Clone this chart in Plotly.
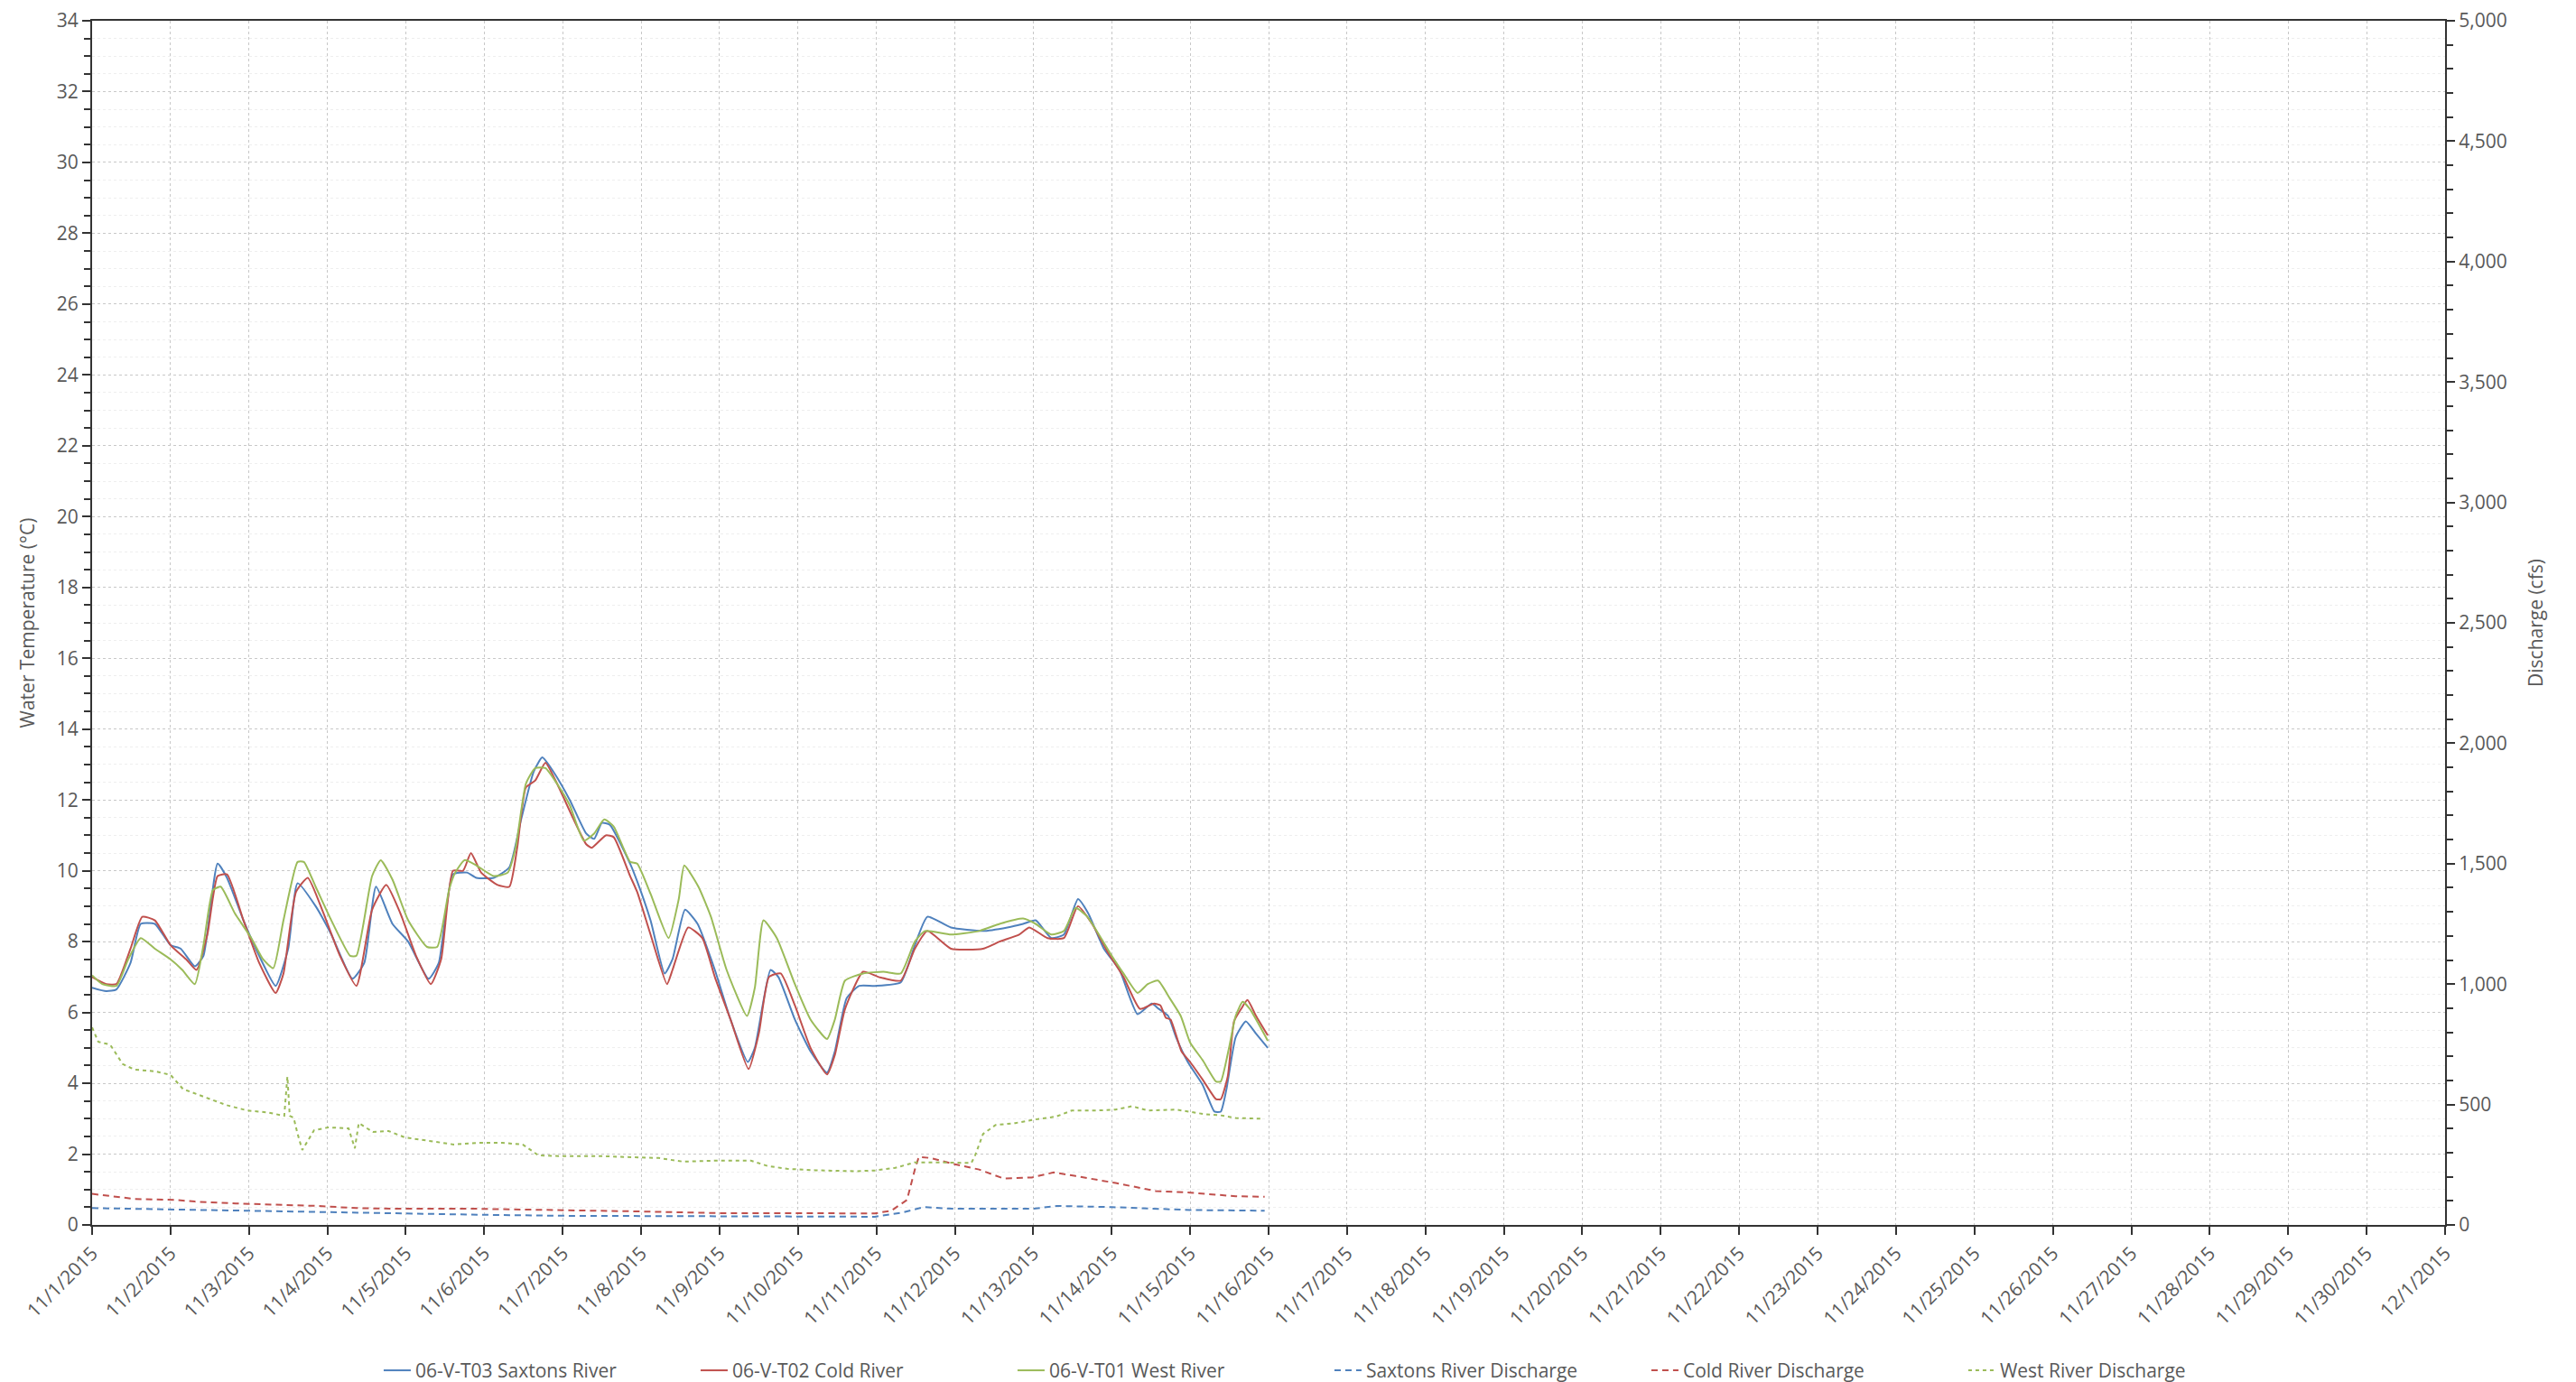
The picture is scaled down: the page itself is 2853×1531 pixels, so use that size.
import pandas as pd
import plotly.graph_objects as go

# --- 資料 (天數自 2015-11-01 00:00 起算) ---
start = pd.Timestamp('2015-11-01')

saxtons_days = [0.00, 0.18, 0.31, 0.49, 0.62, 0.80, 1.00, 1.13, 1.31, 1.42, 1.60, 1.72, 1.93, 2.13, 2.34, 2.50,
                2.62, 2.85, 3.05, 3.32, 3.47, 3.62, 3.83, 4.03, 4.29, 4.42, 4.60, 4.78, 4.90, 5.12, 5.32, 5.47,
                5.63, 5.74, 5.88, 6.09, 6.30, 6.40, 6.50, 6.60, 6.86, 6.95, 7.12, 7.30, 7.40, 7.56, 7.72, 7.94,
                8.14, 8.36, 8.45, 8.65, 8.75, 8.96, 9.16, 9.37, 9.47, 9.62, 9.78, 9.98, 10.31, 10.49, 10.65,
                10.95, 11.36, 11.67, 11.87, 12.03, 12.23, 12.39, 12.57, 12.70, 12.90, 13.10, 13.33, 13.51,
                13.60, 13.72, 13.82, 13.97, 14.16, 14.31, 14.39, 14.46, 14.58, 14.71, 14.84, 14.99]
saxtons_temp = [6.7, 6.6, 6.65, 7.4, 8.5, 8.5, 7.9, 7.8, 7.3, 7.6, 10.2, 9.8, 8.6, 7.6, 6.75, 7.8,
                9.65, 9.0, 8.2, 6.95, 7.4, 9.55, 8.5, 8.0, 6.95, 7.4, 9.9, 9.95, 9.8, 9.8, 10.1, 11.45,
                12.8, 13.2, 12.8, 12.0, 11.05, 10.9, 11.35, 11.3, 10.2, 9.7, 8.6, 7.1, 7.5, 8.9, 8.5, 7.2,
                5.8, 4.6, 5.0, 7.2, 7.0, 5.8, 4.9, 4.3, 4.9, 6.4, 6.75, 6.75, 6.85, 7.9, 8.7,
                8.4, 8.3, 8.4, 8.5, 8.6, 8.1, 8.2, 9.2, 8.8, 7.8, 7.2, 5.95, 6.25,
                6.1, 5.9, 5.3, 4.6, 3.95, 3.2, 3.2, 3.8, 5.3, 5.75, 5.4, 5.0]

cold_days = [0.00, 0.18, 0.31, 0.49, 0.64, 0.80, 1.00, 1.20, 1.33, 1.47, 1.60, 1.72, 1.93, 2.13, 2.34, 2.44,
             2.60, 2.75, 2.95, 3.16, 3.37, 3.57, 3.75, 3.93, 4.13, 4.32, 4.45, 4.60, 4.73, 4.83, 4.96, 5.17,
             5.32, 5.42, 5.53, 5.65, 5.78, 5.93, 6.14, 6.30, 6.37, 6.55, 6.65, 6.86, 6.95, 7.12, 7.33, 7.40,
             7.60, 7.78, 7.94, 8.14, 8.37, 8.50, 8.63, 8.78, 8.96, 9.16, 9.37, 9.47, 9.60, 9.83, 10.03,
             10.31, 10.49, 10.65, 10.95, 11.36, 11.57, 11.82, 11.95, 12.18, 12.39, 12.57, 12.75, 12.95,
             13.15, 13.36, 13.54, 13.62, 13.69, 13.75, 13.89, 14.00, 14.16, 14.33, 14.39, 14.48, 14.56,
             14.65, 14.73, 14.84, 14.99]
cold_temp = [7.0, 6.8, 6.8, 7.8, 8.7, 8.6, 7.9, 7.5, 7.2, 8.2, 9.85, 9.9, 8.6, 7.4, 6.55, 7.1,
             9.4, 9.8, 8.8, 7.6, 6.75, 8.9, 9.6, 8.8, 7.6, 6.8, 7.5, 10.0, 10.0, 10.5, 9.95, 9.6,
             9.55, 10.65, 12.35, 12.55, 13.05, 12.45, 11.45, 10.75, 10.65, 11.0, 10.95, 9.85, 9.4, 8.2, 6.8, 7.2,
             8.4, 8.1, 7.0, 5.8, 4.4, 5.4, 7.0, 7.1, 6.2, 5.0, 4.25, 4.8, 6.1, 7.15, 7.0,
             6.9, 7.8, 8.3, 7.8, 7.8, 8.0, 8.2, 8.4, 8.1, 8.1, 9.0, 8.5, 7.7,
             7.0, 6.1, 6.25, 6.2, 5.85, 5.8, 4.9, 4.6, 4.1, 3.55, 3.55, 4.2, 5.75,
             6.1, 6.35, 5.9, 5.35]

west_days = [0.00, 0.13, 0.31, 0.46, 0.62, 0.80, 1.00, 1.15, 1.31, 1.42, 1.54, 1.64, 1.82, 2.03, 2.18, 2.31,
             2.44, 2.62, 2.70, 2.85, 3.05, 3.29, 3.37, 3.57, 3.68, 3.83, 4.03, 4.27, 4.40, 4.55, 4.63, 4.75,
             4.90, 5.12, 5.30, 5.40, 5.53, 5.65, 5.78, 5.93, 6.09, 6.27, 6.40, 6.53, 6.65, 6.86, 6.95, 7.12,
             7.35, 7.48, 7.55, 7.73, 7.89, 8.09, 8.35, 8.45, 8.56, 8.73, 8.96, 9.16, 9.37, 9.47, 9.60,
             9.83, 10.09, 10.31, 10.49, 10.62, 10.95, 11.31, 11.57, 11.87, 12.03, 12.23, 12.39, 12.54,
             12.69, 13.00, 13.15, 13.33, 13.46, 13.59, 13.74, 13.88, 14.00, 14.16, 14.33, 14.39, 14.50,
             14.58, 14.67, 14.76, 14.99]
west_temp = [7.05, 6.8, 6.75, 7.5, 8.1, 7.8, 7.5, 7.2, 6.8, 7.9, 9.45, 9.55, 8.8, 8.1, 7.5, 7.25,
             8.6, 10.25, 10.25, 9.55, 8.6, 7.6, 7.6, 9.85, 10.3, 9.75, 8.6, 7.85, 7.85, 9.45, 9.95, 10.3,
             10.15, 9.85, 9.95, 10.65, 12.45, 12.9, 12.9, 12.45, 11.85, 10.85, 11.05, 11.45, 11.25, 10.25, 10.2, 9.35,
             8.1, 9.2, 10.15, 9.55, 8.7, 7.2, 5.9, 6.7, 8.6, 8.1, 6.8, 5.8, 5.25, 5.8, 6.9,
             7.1, 7.15, 7.1, 8.0, 8.3, 8.2, 8.3, 8.5, 8.65, 8.5, 8.2, 8.3, 8.95,
             8.7, 7.6, 7.1, 6.55, 6.8, 6.9, 6.4, 5.9, 5.15, 4.65, 4.05, 4.05, 5.05,
             5.9, 6.3, 6.1, 5.2]

saxtons_q_days = [0.0, 1.0, 2.0, 3.0, 4.0, 5.0, 6.0, 7.0, 8.5, 9.98, 10.34, 10.6, 11.0, 12.0, 12.3, 13.0, 14.0, 14.5, 14.95]
saxtons_q = [70, 64, 58, 53, 48, 42, 38, 37, 35, 34, 52, 74, 67, 67, 79, 74, 62, 59, 59]

cold_q_days = [0.0, 0.28, 0.54, 1.05, 1.31, 1.83, 2.34, 2.86, 3.37, 3.89, 4.92, 5.95, 6.98, 8.0, 9.0, 9.98,
               10.19, 10.39, 10.49, 10.54, 10.69, 11.0, 11.31, 11.62, 11.98, 12.26, 12.54, 13.05, 13.56,
               14.0, 14.35, 14.58, 14.95]
cold_q = [129, 119, 108, 104, 97, 89, 85, 79, 70, 67, 67, 62, 56, 49, 48, 48,
          59, 104, 230, 282, 278, 252, 230, 193, 197, 218, 203, 174, 141,
          134, 125, 119, 117]

west_q_days = [0.00, 0.08, 0.23, 0.39, 0.54, 0.80, 1.00, 1.16, 1.41, 1.72, 1.98, 2.24, 2.45, 2.49, 2.52, 2.57,
               2.62, 2.68, 2.83, 3.01, 3.27, 3.35, 3.40, 3.58, 3.78, 3.99, 4.30, 4.61, 4.92, 5.23, 5.49,
               5.69, 5.95, 6.47, 6.98, 7.22, 7.53, 7.94, 8.40, 8.61, 8.86, 9.22, 9.73, 9.98, 10.24, 10.49,
               10.80, 11.21, 11.26, 11.36, 11.52, 11.77, 12.03, 12.29, 12.49, 12.80, 13.05, 13.26, 13.46,
               13.82, 14.18, 14.39, 14.58, 14.76, 14.90]
west_q = [820, 760, 749, 668, 645, 638, 623, 564, 534, 497, 475, 467, 453, 616, 453, 445,
          378, 311, 393, 405, 401, 318, 423, 386, 390, 363, 349, 334, 341, 341, 334,
          289, 286, 286, 280, 278, 263, 267, 267, 245, 233, 227, 223, 226, 237, 260,
          260, 257, 290, 378, 415, 423, 438, 450, 475, 475, 479, 493, 475,
          479, 460, 455, 444, 441, 441]


def to_time(days):
    return start + pd.to_timedelta(days, unit='D')


BLUE = '#4F81BD'
RED = '#C0504D'
GREEN = '#9BBB59'
TEXT = '#595959'
AXIS = '#333333'
FONT = 'Open Sans, Noto Sans, sans-serif'
FS = 21

fig = go.Figure()

# --- 水溫 (實線) ---
fig.add_trace(go.Scatter(x=to_time(saxtons_days), y=saxtons_temp, mode='lines',
                         name='06-V-T03 Saxtons River',
                         line=dict(color=BLUE, width=2, shape='spline', smoothing=0.5)))
fig.add_trace(go.Scatter(x=to_time(cold_days), y=cold_temp, mode='lines',
                         name='06-V-T02 Cold River',
                         line=dict(color=RED, width=2, shape='spline', smoothing=0.5)))
fig.add_trace(go.Scatter(x=to_time(west_days), y=west_temp, mode='lines',
                         name='06-V-T01 West River',
                         line=dict(color=GREEN, width=2, shape='spline', smoothing=0.5)))

# --- 流量 (虛線, 右軸) ---
fig.add_trace(go.Scatter(x=to_time(saxtons_q_days), y=saxtons_q, mode='lines', yaxis='y2',
                         name='Saxtons River Discharge', line=dict(color=BLUE, width=2, dash='7px,5px')))
fig.add_trace(go.Scatter(x=to_time(cold_q_days), y=cold_q, mode='lines', yaxis='y2',
                         name='Cold River Discharge', line=dict(color=RED, width=2, dash='7px,5px')))
fig.add_trace(go.Scatter(x=to_time(west_q_days), y=west_q, mode='lines', yaxis='y2',
                         name='West River Discharge', line=dict(color=GREEN, width=2, dash='4px,4px')))

fig.update_layout(
    width=2853,
    height=1531,
    margin=dict(l=94, r=153, t=15, b=182, autoexpand=False),
    paper_bgcolor='white',
    plot_bgcolor='white',
    font=dict(family=FONT, size=FS, color=TEXT),
    showlegend=True,
    legend=dict(
        orientation='h',
        x=0.122, xanchor='left',
        y=-0.121, yanchor='middle',
        entrywidth=306, entrywidthmode='pixels',
        font=dict(size=FS, color=TEXT),
        bgcolor='rgba(0,0,0,0)',
    ),
    xaxis=dict(
        type='date',
        range=['2015-11-01', '2015-12-01'],
        dtick=86400000,
        tick0='2015-11-01',
        tickformat='%-m/%-d/%Y',
        tickangle=-45,
        ticks='outside', ticklen=9, tickwidth=2, tickcolor=AXIS,
        showline=True, linecolor=AXIS, linewidth=2, mirror=True,
        showgrid=True, gridcolor='#c8c8c8', griddash='dot', gridwidth=1,
        tickfont=dict(size=FS, color=TEXT),
        ticklabeloverflow='allow',
        zeroline=False,
    ),
    yaxis=dict(
        title=dict(text='Water Temperature (°C)', standoff=18, font=dict(size=FS, color=TEXT)),
        range=[0, 34],
        dtick=2,
        ticks='outside', ticklen=9, tickwidth=2, tickcolor=AXIS,
        showline=True, linecolor=AXIS, linewidth=2,
        showgrid=True, gridcolor='#c8c8c8', griddash='dot', gridwidth=1,
        minor=dict(dtick=0.5, ticks='outside', ticklen=7, tickwidth=2, tickcolor=AXIS,
                   showgrid=True, gridcolor='#eeeeee', gridwidth=1),
        zeroline=False,
        ticklabeloverflow='allow',
        tickfont=dict(size=FS, color=TEXT),
    ),
    yaxis2=dict(
        title=dict(text='Discharge (cfs)', standoff=26, font=dict(size=FS, color=TEXT)),
        overlaying='y',
        side='right',
        range=[0, 5000],
        dtick=500,
        tickformat=',',
        ticks='outside', ticklen=9, tickwidth=2, tickcolor=AXIS,
        showline=True, linecolor=AXIS, linewidth=2,
        showgrid=False,
        minor=dict(dtick=100, ticks='outside', ticklen=7, tickwidth=2, tickcolor=AXIS, showgrid=False),
        zeroline=False,
        ticklabeloverflow='allow',
        tickfont=dict(size=FS, color=TEXT),
    ),
)

fig.write_html("out.html")
